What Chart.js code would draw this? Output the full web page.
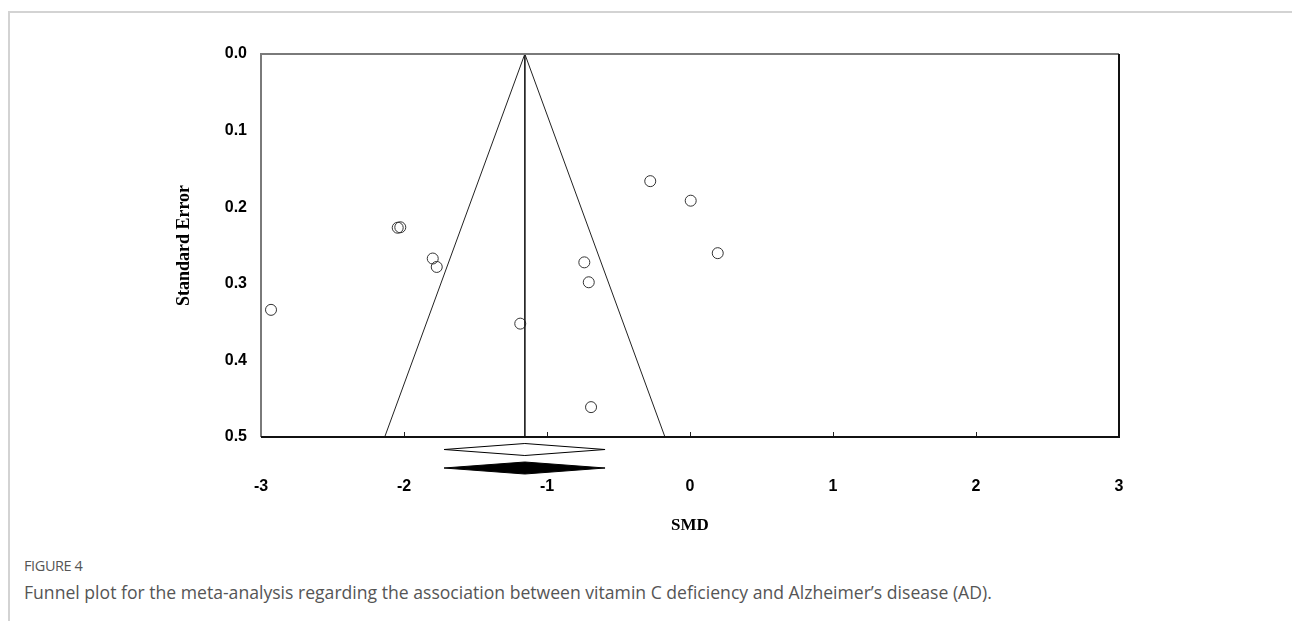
<!DOCTYPE html>
<html>
<head>
<meta charset="utf-8">
<script src="https://cdn.jsdelivr.net/npm/chart.js@4.4.1/dist/chart.umd.min.js"></script>
<style>
  body { margin: 0; background: #fff; width: 1292px; height: 621px; overflow: hidden; position: relative; }
  #frame { position: absolute; left: 8px; top: 11px; right: 0; bottom: 0; border-top: 2px solid #d3d3d3; border-left: 2px solid #d3d3d3; }
  #wrap { position: absolute; left: 0; top: 0; width: 1292px; height: 545px; }
  .fig { position: absolute; left: 24px; top: 556px; font: 14.5px "Open Sans", sans-serif; color: #555; letter-spacing: -0.4px; }
  .cap { position: absolute; left: 24px; top: 580px; font: 17.6px "Open Sans", sans-serif; color: #555; }
</style>
</head>
<body>
<div id="frame"></div>
<div id="wrap"><canvas id="funnel" width="1292" height="545"></canvas></div>
<div class="fig">FIGURE 4</div>
<div class="cap">Funnel plot for the meta-analysis regarding the association between vitamin C deficiency and Alzheimer’s disease (AD).</div>
<script>
// study effect sizes and their standard errors
const smdValues = [-2.93, -2.044, -2.026, -1.799, -1.771, -1.187, -0.739, -0.708, -0.692, -0.278, 0.005, 0.194];
const seValues  = [0.334, 0.2268, 0.2262, 0.267, 0.278, 0.352, 0.272, 0.298, 0.461, 0.166, 0.1915, 0.260];

// pooled estimate and its confidence interval (two diamonds, same values)
const pooledSMD = -1.155;
const ciLow = -1.72;
const ciHigh = -0.594;
const funnelMaxSE = 0.5;

const xTicks = [-3, -2, -1, 0, 1, 2, 3];
const yTicks = [0.0, 0.1, 0.2, 0.3, 0.4, 0.5];

const points = smdValues.map((x, i) => ({ x: x, y: seValues[i] }));
const funnel = [
    { x: pooledSMD - 1.96 * funnelMaxSE, y: funnelMaxSE },
    { x: pooledSMD, y: 0 },
    { x: pooledSMD + 1.96 * funnelMaxSE, y: funnelMaxSE }
];
const centerLine = [{ x: pooledSMD, y: 0 }, { x: pooledSMD, y: funnelMaxSE }];

const framePlugin = {
    id: 'frame',
    afterDatasetsDraw(chart) {
        const { ctx, chartArea: a } = chart;
        ctx.save();
        ctx.lineWidth = 2;
        ctx.strokeStyle = '#7a7a7a';
        ctx.beginPath();
        ctx.moveTo(a.left, a.bottom); ctx.lineTo(a.left, a.top); ctx.lineTo(a.right, a.top);
        ctx.stroke();
        ctx.strokeStyle = '#111';
        ctx.beginPath();
        ctx.moveTo(a.right, a.top); ctx.lineTo(a.right, a.bottom); ctx.lineTo(a.left, a.bottom);
        ctx.stroke();
        ctx.restore();
    }
};

// summary diamonds drawn below the axis
const diamondPlugin = {
    id: 'diamonds',
    afterDraw(chart) {
        const { ctx } = chart;
        const xs = chart.scales.x;
        const base = chart.scales.y.getPixelForValue(funnelMaxSE);
        const l = xs.getPixelForValue(ciLow), c = xs.getPixelForValue(pooledSMD), r = xs.getPixelForValue(ciHigh);
        [{ off: 12.5, fill: '#fff' }, { off: 31, fill: '#000' }].forEach(d => {
            const cy = base + d.off;
            ctx.save();
            ctx.beginPath();
            ctx.moveTo(l, cy); ctx.lineTo(c, cy - 6); ctx.lineTo(r, cy); ctx.lineTo(c, cy + 6); ctx.closePath();
            ctx.fillStyle = d.fill;
            ctx.fill();
            ctx.lineWidth = 1;
            ctx.strokeStyle = '#000';
            ctx.stroke();
            ctx.restore();
        });
    }
};

new Chart(document.getElementById('funnel'), {
    type: 'scatter',
    data: {
        datasets: [
            { data: funnel, showLine: true, borderColor: '#222', borderWidth: 1, pointRadius: 0, tension: 0 },
            { data: centerLine, showLine: true, borderColor: '#222', borderWidth: 1, pointRadius: 0 },
            { data: points, pointRadius: 5.5, pointBorderWidth: 1, pointBorderColor: '#333', pointBackgroundColor: 'rgba(0,0,0,0)' }
        ]
    },
    options: {
        responsive: false,
        animation: false,
        layout: { padding: { top: 54, right: 173, left: 0, bottom: 0 } },
        plugins: { legend: { display: false }, tooltip: { enabled: false } },
        scales: {
            x: {
                type: 'linear', min: -3, max: 3,
                afterFit: s => { s.height = 108; },
                afterBuildTicks: s => { s.ticks = xTicks.map(v => ({ value: v })); },
                border: { display: false },
                grid: { drawOnChartArea: false, drawTicks: true, tickLength: -5, color: '#222' },
                ticks: { color: '#000', padding: 45, font: { family: 'Liberation Sans, Arial', size: 16, weight: 'bold' }, callback: v => String(v) },
                title: { display: true, text: 'SMD', color: '#000', padding: { top: 0, bottom: 9 }, font: { family: 'Liberation Serif, Times New Roman', size: 17, weight: 'bold' } }
            },
            y: {
                type: 'linear', min: 0, max: 0.5, reverse: true,
                afterFit: s => { s.width = 261; },
                afterBuildTicks: s => { s.ticks = yTicks.map(v => ({ value: v })); },
                border: { display: false },
                grid: { display: false, drawTicks: false },
                ticks: { color: '#000', padding: 14, font: { family: 'Liberation Sans, Arial', size: 16, weight: 'bold' }, callback: v => v.toFixed(1) },
                title: { display: true, text: 'Standard Error', color: '#000', padding: { top: 174, bottom: 0 }, font: { family: 'Liberation Serif, Times New Roman', size: 18, weight: 'bold' } }
            }
        }
    },
    plugins: [framePlugin, diamondPlugin]
});
</script>
</body>
</html>
